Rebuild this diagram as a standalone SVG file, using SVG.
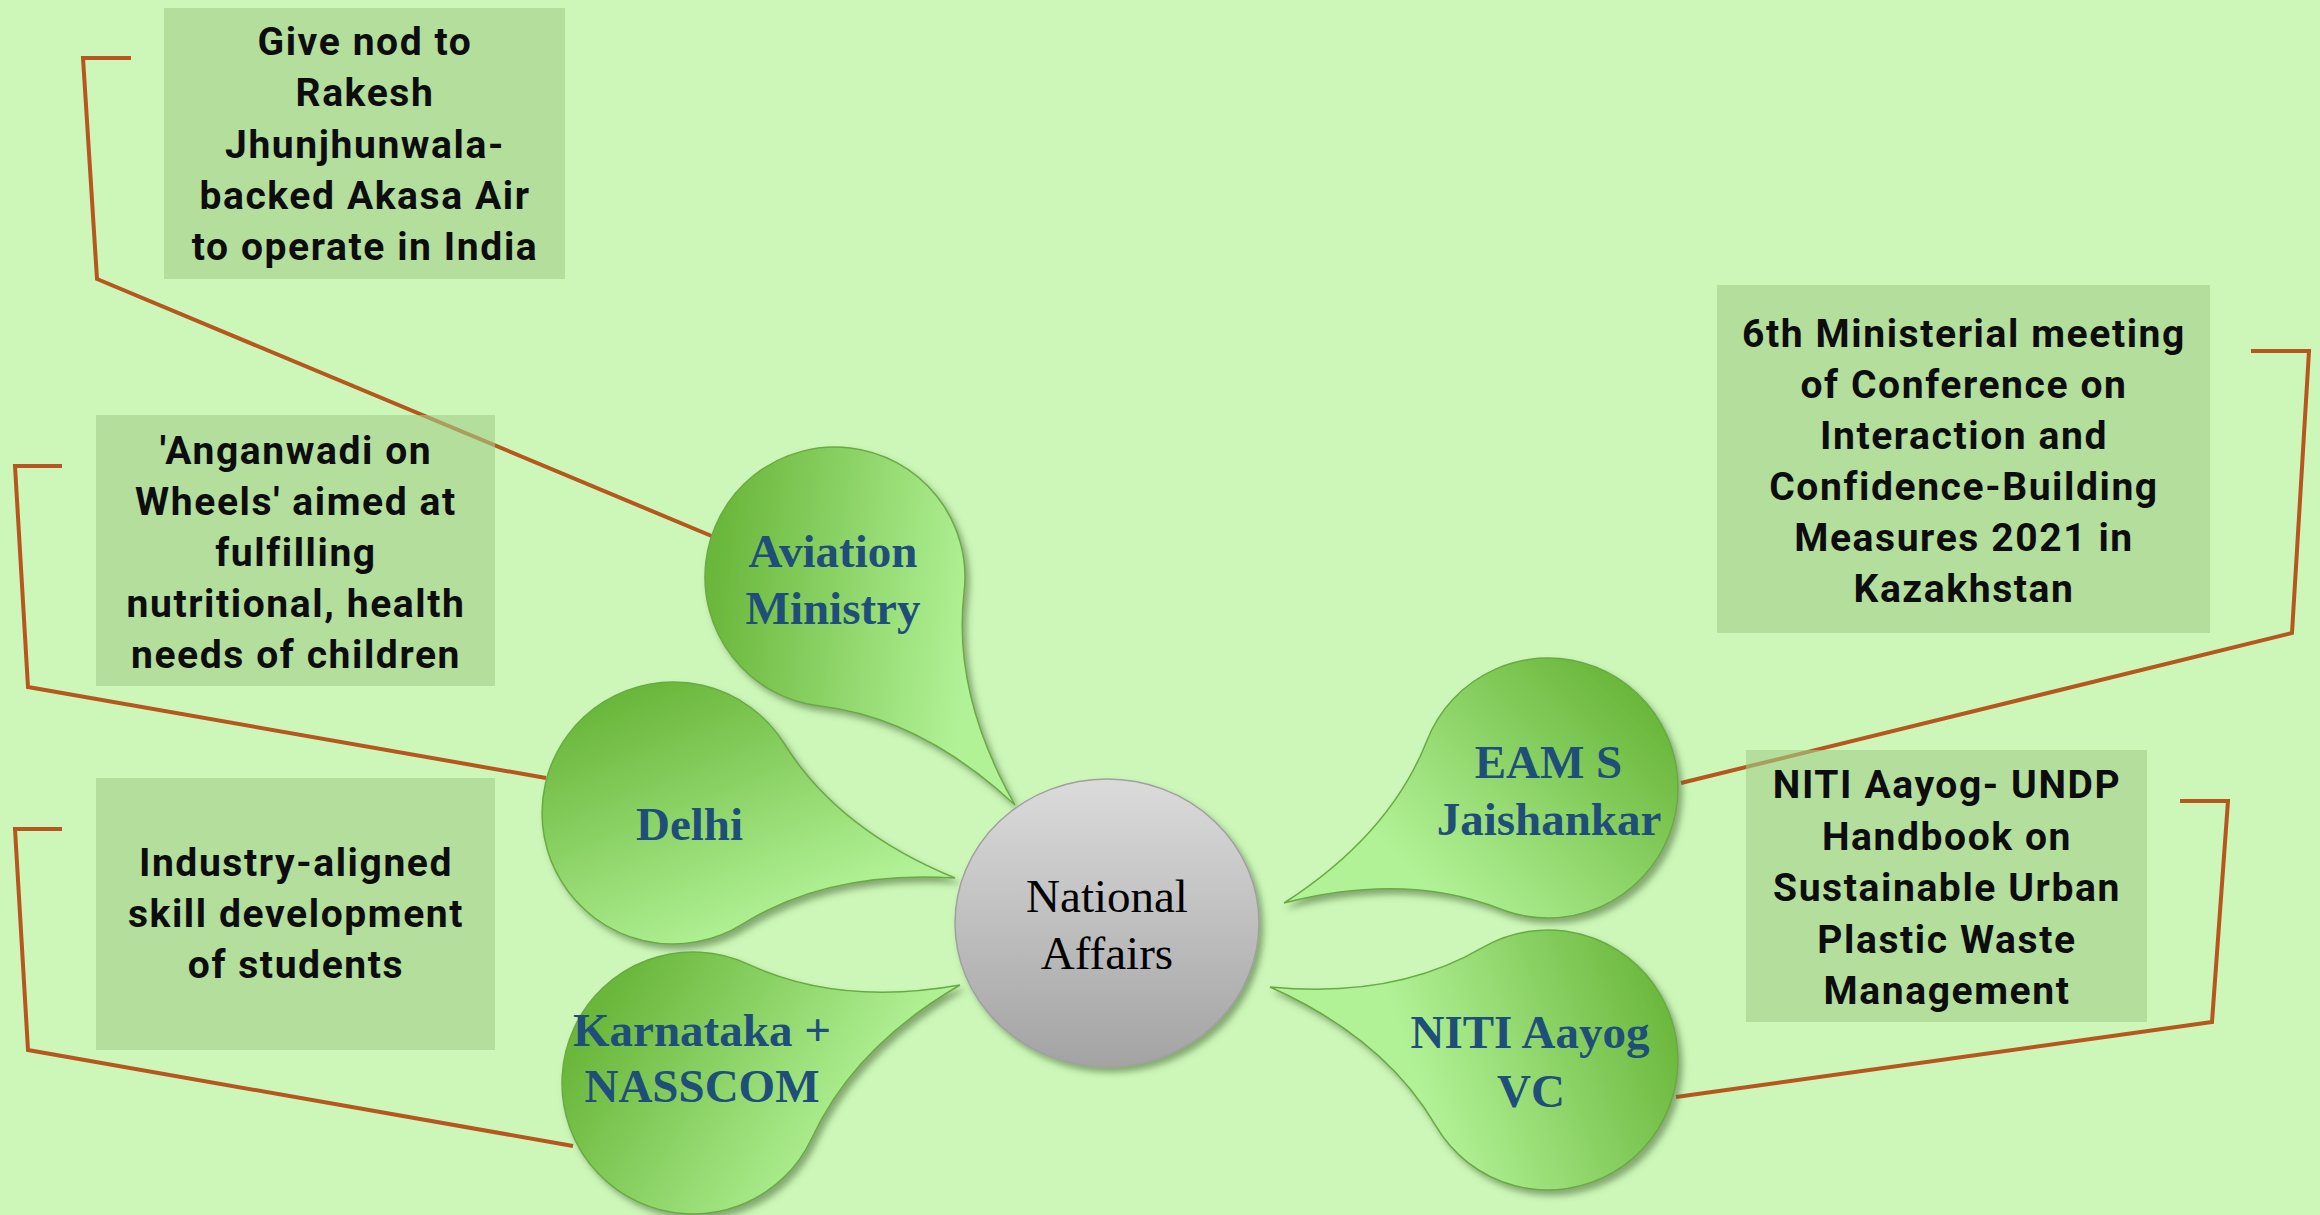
<svg xmlns="http://www.w3.org/2000/svg" width="2320" height="1215" viewBox="0 0 2320 1215">
<defs>
<style>
.box{fill:#a2cd89;fill-opacity:0.6}
.bt{font-family:Roboto,"Liberation Sans",sans-serif;font-weight:700;font-size:39px;letter-spacing:1.6px;fill:#0d0d0d;text-anchor:middle}
.pt{font-family:"Liberation Serif","Times New Roman",serif;font-weight:700;font-size:47px;fill:#1f4e79;text-anchor:middle}
.ct{font-family:"Liberation Serif","Times New Roman",serif;font-size:47px;fill:#000;text-anchor:middle}
.petal{stroke:#6aaa45;stroke-width:1.5;filter:url(#sh)}
.conn{fill:none;stroke:#b5571f;stroke-width:4;stroke-linejoin:miter}
</style>
<filter id="sh" x="-20%" y="-20%" width="140%" height="140%">
<feDropShadow dx="4" dy="5" stdDeviation="3" flood-color="#4d6b3a" flood-opacity="0.55"/>
</filter>
<linearGradient id="gAv" gradientUnits="userSpaceOnUse" x1="715" y1="570" x2="975" y2="600"><stop offset="0" stop-color="#6ab73b"/><stop offset="1" stop-color="#b2f297"/></linearGradient>
<linearGradient id="gDe" gradientUnits="userSpaceOnUse" x1="640" y1="690" x2="740" y2="940"><stop offset="0" stop-color="#6ab73b"/><stop offset="1" stop-color="#b2f297"/></linearGradient>
<linearGradient id="gKa" gradientUnits="userSpaceOnUse" x1="600" y1="1010" x2="840" y2="1160"><stop offset="0" stop-color="#6ab73b"/><stop offset="1" stop-color="#b2f297"/></linearGradient>
<linearGradient id="gEa" gradientUnits="userSpaceOnUse" x1="1640" y1="700" x2="1440" y2="900"><stop offset="0" stop-color="#6ab73b"/><stop offset="1" stop-color="#b2f297"/></linearGradient>
<linearGradient id="gNi" gradientUnits="userSpaceOnUse" x1="1670" y1="1000" x2="1420" y2="1090"><stop offset="0" stop-color="#6ab73b"/><stop offset="1" stop-color="#b2f297"/></linearGradient>
<linearGradient id="gC" x1="0" y1="0" x2="0" y2="1"><stop offset="0" stop-color="#dbdbdb"/><stop offset="1" stop-color="#a3a3a3"/></linearGradient>
</defs>
<rect width="2320" height="1215" fill="#ccf7b8"/>

<g id="connectors">
<polyline class="conn" points="131,58 83,58 97,279 714,537"/>
<polyline class="conn" points="62,466 15,466 28,687 546,778"/>
<polyline class="conn" points="62,829 15,829 28,1050 573,1146"/>
<polyline class="conn" points="2251,351 2309,351 2292,633 1681,783"/>
<polyline class="conn" points="2180,801 2228,801 2212,1022 1676,1097"/>
</g>

<g id="box-akasa">
<rect class="box" x="164" y="8" width="401" height="271"/>
<text class="bt" x="365" y="55">Give nod to</text>
<text class="bt" x="365" y="106.3">Rakesh</text>
<text class="bt" x="365" y="157.6">Jhunjhunwala-</text>
<text class="bt" x="365" y="208.9">backed Akasa Air</text>
<text class="bt" x="365" y="260.2">to operate in India</text>
</g>
<g id="box-anganwadi">
<rect class="box" x="96" y="415" width="399" height="271"/>
<text class="bt" x="296" y="464">'Anganwadi on</text>
<text class="bt" x="296" y="515">Wheels' aimed at</text>
<text class="bt" x="296" y="566">fulfilling</text>
<text class="bt" x="296" y="617">nutritional, health</text>
<text class="bt" x="296" y="668">needs of children</text>
</g>
<g id="box-skill">
<rect class="box" x="96" y="778" width="399" height="272"/>
<text class="bt" x="296" y="876">Industry-aligned</text>
<text class="bt" x="296" y="927">skill development</text>
<text class="bt" x="296" y="978">of students</text>
</g>
<g id="box-cica">
<rect class="box" x="1717" y="285" width="493" height="348"/>
<text class="bt" x="1964" y="347">6th Ministerial meeting</text>
<text class="bt" x="1964" y="398">of Conference on</text>
<text class="bt" x="1964" y="449">Interaction and</text>
<text class="bt" x="1964" y="500">Confidence-Building</text>
<text class="bt" x="1964" y="551">Measures 2021 in</text>
<text class="bt" x="1964" y="602">Kazakhstan</text>
</g>
<g id="box-undp">
<rect class="box" x="1746" y="750" width="401" height="272"/>
<text class="bt" x="1947" y="798">NITI Aayog- UNDP</text>
<text class="bt" x="1947" y="849.5">Handbook on</text>
<text class="bt" x="1947" y="901">Sustainable Urban</text>
<text class="bt" x="1947" y="952.5">Plastic Waste</text>
<text class="bt" x="1947" y="1004">Management</text>
</g>

<g id="petal-aviation">
<path class="petal" fill="url(#gAv)" d="M964.1,592.2 Q952.1,694.2 1015,805 Q921.8,718.1 819.8,706.1 A130,130 0 1 1 964.1,592.2 Z"/>
<text class="pt" x="833" y="567">Aviation</text>
<text class="pt" x="833" y="624">Ministry</text>
</g>
<g id="petal-delhi">
<path class="petal" fill="url(#gDe)" d="M784.1,743.5 Q838.3,830.2 955,878 Q829.2,869.9 742.5,924.1 A131,131 0 1 1 784.1,743.5 Z"/>
<text class="pt" x="689.5" y="840">Delhi</text>
</g>
<g id="petal-karnataka">
<path class="petal" fill="url(#gKa)" d="M748,964.1 Q839.3,1006.4 960,985 Q854.2,1046.7 811.9,1138 A131,131 0 1 1 748,964.1 Z"/>
<text class="pt" x="702" y="1046">Karnataka +</text>
<text class="pt" x="702" y="1102">NASSCOM</text>
</g>
<g id="petal-eam">
<path class="petal" fill="url(#gEa)" d="M1500.4,909 Q1405.7,871.8 1284,903 Q1389.8,835.1 1427,740.4 A130,130 0 1 1 1500.4,909 Z"/>
<text class="pt" x="1548.5" y="778">EAM S</text>
<text class="pt" x="1549" y="835">Jaishankar</text>
</g>
<g id="petal-niti">
<path class="petal" fill="url(#gNi)" d="M1435.7,1125.6 Q1384.4,1037.9 1270,987 Q1394.7,999 1482.4,947.7 A130,130 0 1 1 1435.7,1125.6 Z"/>
<text class="pt" x="1530" y="1048">NITI Aayog</text>
<text class="pt" x="1531" y="1107">VC</text>
</g>

<g id="center">
<ellipse cx="1107" cy="923" rx="152" ry="144" fill="url(#gC)" stroke="#a0a0a0" stroke-width="1.5" filter="url(#sh)"/>
<text class="ct" x="1107" y="912">National</text>
<text class="ct" x="1107" y="969">Affairs</text>
</g>
</svg>
